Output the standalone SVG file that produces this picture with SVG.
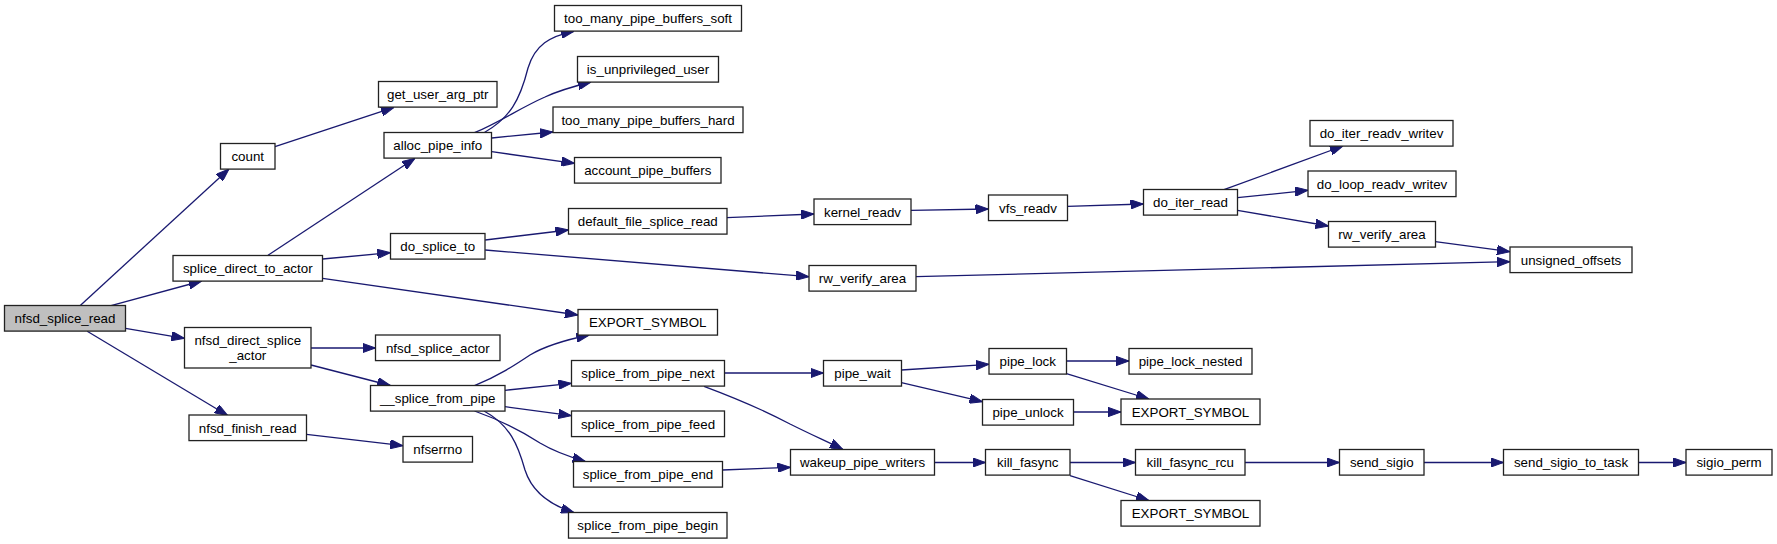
<svg xmlns="http://www.w3.org/2000/svg" width="1777" height="544" viewBox="0 0 1777 544">
<defs>
<style>
.n rect{fill:#fff;stroke:#222;stroke-width:1.3}
.n.root rect{fill:#bfbfbf}
.n text{font-family:"Liberation Sans",Arial,sans-serif;font-size:13.33px;fill:#000;text-anchor:middle}
.e path{fill:none;stroke:#191970;stroke-width:1.3;marker-end:url(#ah)}
</style>
<marker id="ah" viewBox="0 0 13 9.4" markerWidth="13" markerHeight="9.4" refX="13" refY="4.7" orient="auto" markerUnits="userSpaceOnUse">
<path d="M0,0 L13,4.7 L0,9.4 z" fill="#191970" stroke="#191970" stroke-width="1"/>
</marker>
</defs>
<rect width="1777" height="544" fill="#fff"/>
<g id="connectors" class="e">
<path d="M80,305.7 L229,169"/>
<path d="M111,305.7 L201.7,281"/>
<path d="M125.5,328.3 L184.4,338.3"/>
<path d="M87.2,331.3 L227.7,415.5"/>
<path d="M275,146.7 L394,107.3"/>
<path d="M268,255.3 L415,158.3"/>
<path d="M322.6,259 L390.3,252.7"/>
<path d="M322.6,278.3 L578,315"/>
<path d="M484,132.7 C510,118 520,100 528,68 C535,45 550,36 574,31.3"/>
<path d="M474.5,132.7 C500,122 520,108 545,97 C560,90 575,86 591,82"/>
<path d="M491.7,138 L553,132"/>
<path d="M491.7,151.7 L574.4,163.3"/>
<path d="M485.2,240 L568.5,230"/>
<path d="M485.2,250 L809,276.7"/>
<path d="M727,217.7 L814,214"/>
<path d="M910.9,210.3 L988.5,209"/>
<path d="M1067.5,206.3 L1143.5,204"/>
<path d="M1224,189.7 L1343,146"/>
<path d="M1237.5,197.7 L1308,190.3"/>
<path d="M1237.5,210.3 L1328.5,226"/>
<path d="M1435.3,241.7 L1510,251.7"/>
<path d="M916,276.7 L1510,261.7"/>
<path d="M311,348 L375.5,348"/>
<path d="M311,365 L390.3,385.5"/>
<path d="M306.5,434.3 L403,445.7"/>
<path d="M474.5,385.7 C500,375 515,365 530,355 C545,346 565,340 589.3,335"/>
<path d="M505,390.3 L571.5,383.3"/>
<path d="M505,406.7 L571.5,415.7"/>
<path d="M474.5,411 C500,420 520,430 540,443 C555,452 570,457 585.5,461.5"/>
<path d="M484,411 C510,425 518,445 525,470 C532,492 550,505 574,512.5"/>
<path d="M724.3,373 L823.5,373"/>
<path d="M704,386.3 C730,396 760,408 790,424 C810,434 830,443 843,449.5"/>
<path d="M722.3,470 L790.5,467.3"/>
<path d="M901.4,370 L989,364.3"/>
<path d="M901.4,382.7 L982.5,401.7"/>
<path d="M1066.5,361 L1129,361"/>
<path d="M1066.5,373.7 L1149,399"/>
<path d="M1073.5,412 L1121,412"/>
<path d="M934.5,462.5 L985.5,462.5"/>
<path d="M1070,462.5 L1135.5,462.5"/>
<path d="M1070,475.7 L1149,500.5"/>
<path d="M1245,462.5 L1339.5,462.5"/>
<path d="M1424,462.5 L1503.5,462.5"/>
<path d="M1638.5,462.5 L1686,462.5"/>
</g>
<g id="nfsd_splice_read" class="n root"><rect x="4.5" y="305.5" width="121" height="25.6"/><text x="65" y="323">nfsd_splice_read</text></g>
<g id="count" class="n"><rect x="220.5" y="143.5" width="54.5" height="25.6"/><text x="247.75" y="161">count</text></g>
<g id="splice_direct_to_actor" class="n"><rect x="173" y="255.5" width="149.5" height="25.6"/><text x="247.75" y="273">splice_direct_to_actor</text></g>
<g id="nfsd_direct_splice_actor" class="n"><rect x="184.5" y="327.5" width="126.5" height="40.5"/><text x="247.75" y="345">nfsd_direct_splice</text><text x="247.75" y="360">_actor</text></g>
<g id="nfsd_finish_read" class="n"><rect x="189" y="415" width="117.5" height="25.6"/><text x="247.75" y="432.5">nfsd_finish_read</text></g>
<g id="get_user_arg_ptr" class="n"><rect x="378.5" y="81.5" width="118.5" height="25.6"/><text x="437.75" y="99">get_user_arg_ptr</text></g>
<g id="alloc_pipe_info" class="n"><rect x="384" y="132.5" width="107.5" height="25.6"/><text x="437.75" y="150">alloc_pipe_info</text></g>
<g id="do_splice_to" class="n"><rect x="390.5" y="233.5" width="94.5" height="25.6"/><text x="437.75" y="251">do_splice_to</text></g>
<g id="nfsd_splice_actor" class="n"><rect x="375.5" y="335" width="124.5" height="25.6"/><text x="437.75" y="352.5">nfsd_splice_actor</text></g>
<g id="__splice_from_pipe" class="n"><rect x="370.5" y="385.5" width="134.5" height="25.6"/><text x="437.75" y="403">__splice_from_pipe</text></g>
<g id="nfserrno" class="n"><rect x="403" y="436.5" width="69.5" height="25.6"/><text x="437.75" y="454">nfserrno</text></g>
<g id="too_many_pipe_buffers_soft" class="n"><rect x="554.5" y="5.5" width="187" height="25.6"/><text x="648" y="23">too_many_pipe_buffers_soft</text></g>
<g id="is_unprivileged_user" class="n"><rect x="577.5" y="56.5" width="141" height="25.6"/><text x="648" y="74">is_unprivileged_user</text></g>
<g id="too_many_pipe_buffers_hard" class="n"><rect x="553" y="107" width="190" height="25.6"/><text x="648" y="124.5">too_many_pipe_buffers_hard</text></g>
<g id="account_pipe_buffers" class="n"><rect x="574.5" y="157.5" width="146.5" height="25.6"/><text x="647.75" y="175">account_pipe_buffers</text></g>
<g id="default_file_splice_read" class="n"><rect x="568.5" y="208.5" width="158.5" height="25.6"/><text x="647.75" y="226">default_file_splice_read</text></g>
<g id="EXPORT_SYMBOL_1" class="n"><rect x="578" y="309.5" width="139.5" height="25.6"/><text x="647.75" y="327">EXPORT_SYMBOL</text></g>
<g id="splice_from_pipe_next" class="n"><rect x="571.5" y="360.5" width="153" height="25.6"/><text x="648" y="378">splice_from_pipe_next</text></g>
<g id="splice_from_pipe_feed" class="n"><rect x="571.5" y="411" width="153" height="25.6"/><text x="648" y="428.5">splice_from_pipe_feed</text></g>
<g id="splice_from_pipe_end" class="n"><rect x="573.5" y="461.5" width="149" height="25.6"/><text x="648" y="479">splice_from_pipe_end</text></g>
<g id="splice_from_pipe_begin" class="n"><rect x="568.5" y="512.5" width="158.5" height="25.6"/><text x="647.75" y="530">splice_from_pipe_begin</text></g>
<g id="kernel_readv" class="n"><rect x="814" y="199" width="97" height="25.6"/><text x="862.5" y="216.5">kernel_readv</text></g>
<g id="rw_verify_area_1" class="n"><rect x="809" y="265.5" width="107" height="25.6"/><text x="862.5" y="283">rw_verify_area</text></g>
<g id="pipe_wait" class="n"><rect x="823.5" y="360.5" width="78" height="25.6"/><text x="862.5" y="378">pipe_wait</text></g>
<g id="wakeup_pipe_writers" class="n"><rect x="790.5" y="449.5" width="144" height="25.6"/><text x="862.5" y="467">wakeup_pipe_writers</text></g>
<g id="vfs_readv" class="n"><rect x="988.5" y="195" width="79" height="25.6"/><text x="1028" y="212.5">vfs_readv</text></g>
<g id="pipe_lock" class="n"><rect x="989" y="348.5" width="77.5" height="25.6"/><text x="1027.75" y="366">pipe_lock</text></g>
<g id="pipe_unlock" class="n"><rect x="982.5" y="399.5" width="91" height="25.6"/><text x="1028" y="417">pipe_unlock</text></g>
<g id="kill_fasync" class="n"><rect x="985.5" y="449.5" width="84.5" height="25.6"/><text x="1027.75" y="467">kill_fasync</text></g>
<g id="do_iter_read" class="n"><rect x="1143.5" y="189.5" width="94" height="25.6"/><text x="1190.5" y="207">do_iter_read</text></g>
<g id="pipe_lock_nested" class="n"><rect x="1129" y="348.5" width="123" height="25.6"/><text x="1190.5" y="366">pipe_lock_nested</text></g>
<g id="EXPORT_SYMBOL_2" class="n"><rect x="1121" y="399" width="139" height="25.6"/><text x="1190.5" y="416.5">EXPORT_SYMBOL</text></g>
<g id="kill_fasync_rcu" class="n"><rect x="1135.5" y="449.5" width="109.5" height="25.6"/><text x="1190.25" y="467">kill_fasync_rcu</text></g>
<g id="EXPORT_SYMBOL_3" class="n"><rect x="1121" y="500.5" width="139" height="25.6"/><text x="1190.5" y="518">EXPORT_SYMBOL</text></g>
<g id="do_iter_readv_writev" class="n"><rect x="1310" y="120.5" width="143" height="25.6"/><text x="1381.5" y="138">do_iter_readv_writev</text></g>
<g id="do_loop_readv_writev" class="n"><rect x="1308" y="171" width="148" height="25.6"/><text x="1382" y="188.5">do_loop_readv_writev</text></g>
<g id="rw_verify_area_2" class="n"><rect x="1328.5" y="221.5" width="107" height="25.6"/><text x="1382" y="239">rw_verify_area</text></g>
<g id="unsigned_offsets" class="n"><rect x="1510" y="247" width="122" height="25.6"/><text x="1571" y="264.5">unsigned_offsets</text></g>
<g id="send_sigio" class="n"><rect x="1339.5" y="449.5" width="84.5" height="25.6"/><text x="1381.75" y="467">send_sigio</text></g>
<g id="send_sigio_to_task" class="n"><rect x="1503.5" y="449.5" width="135" height="25.6"/><text x="1571" y="467">send_sigio_to_task</text></g>
<g id="sigio_perm" class="n"><rect x="1686" y="449.5" width="86" height="25.6"/><text x="1729" y="467">sigio_perm</text></g>
</svg>
